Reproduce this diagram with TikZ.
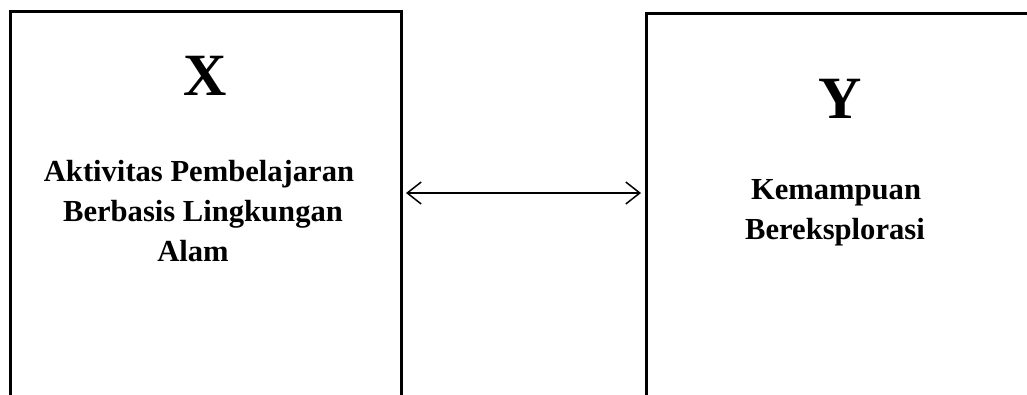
\documentclass[tikz,border=0pt]{standalone}
\usepackage{fontspec}
\setmainfont{Liberation Serif}
\usetikzlibrary{arrows.meta}
\tikzset{
  frame/.style={draw, line width=3pt, rectangle, minimum height=450pt, inner sep=0pt},
  bigletter/.style={font=\fontsize{60}{60}\selectfont\bfseries, anchor=base, inner sep=0pt},
  label/.style={font=\fontsize{30.6}{40}\selectfont\bfseries, anchor=base, inner sep=0pt},
  link/.style={line width=1.5pt, {Straight Barb[length=14pt,width=22pt]}-{Straight Barb[length=14pt,width=22pt]}, shorten <=3.5pt, shorten >=3.5pt}
}
\begin{document}
\begin{tikzpicture}[x=1pt,y=-1pt]
  \useasboundingbox (0,0) rectangle (1027,394);
  \clip (0,0) rectangle (1027,394);
  \fill[white] (0,0) rectangle (1027,394);
  % variable boxes, open at the bottom of the page
  \node[frame, minimum width=391pt] (boxX) at (205.5,236) {};
  \node[frame, minimum width=420pt] (boxY) at (856,238) {};
  % variable X
  \node[bigletter] (symX) at (205,95) {X};
  \node[label] (x1) at (199,181) {Aktivitas Pembelajaran};
  \node[label] (x2) at (203,221) {Berbasis Lingkungan};
  \node[label] (x3) at (193,261) {Alam};
  % variable Y
  \node[bigletter] (symY) at (840,118) {Y};
  \node[label] (y1) at (836,199) {Kemampuan};
  \node[label] (y2) at (835,239) {Bereksplorasi};
  % relation between X and Y
  \coordinate (mid) at (523,193);
  \draw[link] (boxX.east |- mid) -- (boxY.west |- mid);
\end{tikzpicture}
\end{document}
